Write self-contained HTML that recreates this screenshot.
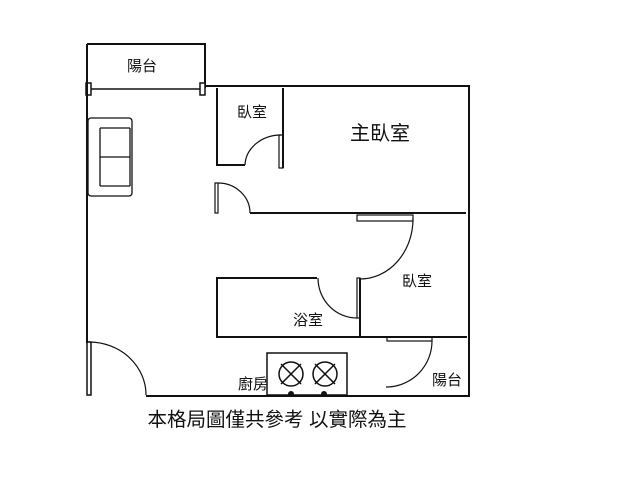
<!DOCTYPE html>
<html><head><meta charset="utf-8"><style>
html,body{margin:0;padding:0;background:#fff;}
svg{display:block;}
text{font-family:"Liberation Sans","Noto Sans CJK TC",sans-serif;fill:#111;}
</style></head><body>
<svg width="640" height="480" viewBox="0 0 640 480" xmlns="http://www.w3.org/2000/svg">
<g fill="none" stroke="#111" stroke-width="2">
<path d="M87 44 H205 V88"/>
<line x1="89" y1="89" x2="203" y2="89" stroke-width="1.5"/>
<rect x="86" y="83" width="5" height="12" fill="#fff" stroke-width="1.5"/>
<rect x="200" y="83" width="5" height="12" fill="#fff" stroke-width="1.5"/>
<line x1="87" y1="44" x2="87" y2="343"/>
<path d="M205 86 H469 V396 H146"/>
<rect x="87" y="342" width="4" height="53" stroke-width="1.5"/>
<path d="M89 342 A57 53 0 0 1 146 395" stroke-width="1.2"/>
<path d="M217 88 V165 H245"/>
<line x1="283" y1="88" x2="283" y2="168"/>
<rect x="279" y="135" width="4" height="33" stroke-width="1.2"/>
<path d="M245 165 A36 31 0 0 1 281 135" stroke-width="1.2"/>
<rect x="215" y="183" width="3" height="30" stroke-width="1.2"/>
<path d="M218 183 A32 30 0 0 1 250 213" stroke-width="1.2"/>
<line x1="250" y1="213" x2="466" y2="213"/>
<rect x="357" y="215" width="56" height="6" stroke-width="1.2"/>
<path d="M413 219 A53 60 0 0 1 360 279" stroke-width="1.2"/>
<path d="M317 278 H217 V337 H467"/>
<line x1="360" y1="278" x2="360" y2="337"/>
<rect x="357" y="278" width="3" height="40" stroke-width="1.2"/>
<path d="M318 278 A39 40 0 0 0 357 318" stroke-width="1.2"/>
<rect x="387" y="337" width="45" height="4" stroke-width="1.2"/>
<path d="M432 341 A46 46 0 0 1 386 387" stroke-width="1.2"/>
<rect x="267" y="353" width="80" height="42" stroke-width="1.5"/>
<g stroke-width="1.5">
<circle cx="291" cy="374" r="12"/><line x1="281" y1="364" x2="301" y2="384"/><line x1="301" y1="364" x2="281" y2="384"/>
<circle cx="325" cy="374" r="12"/><line x1="315" y1="364" x2="335" y2="384"/><line x1="335" y1="364" x2="315" y2="384"/>
</g>
<g stroke-width="1.3">
<rect x="88" y="118" width="44" height="78" rx="3"/>
<line x1="100" y1="128" x2="100" y2="186"/>
<line x1="100" y1="128" x2="130" y2="128"/>
<line x1="100" y1="186" x2="130" y2="186"/>
<line x1="100" y1="157" x2="130" y2="157"/>
<line x1="130" y1="128" x2="130" y2="186"/>
</g>
</g>
<circle cx="291" cy="394" r="3" fill="#111"/>
<circle cx="324" cy="394" r="3" fill="#111"/>
<g font-size="15">
<text x="142" y="71" text-anchor="middle">陽台</text>
<text x="252" y="117" text-anchor="middle">臥室</text>
<text x="417" y="286" text-anchor="middle">臥室</text>
<text x="308" y="325" text-anchor="middle">浴室</text>
<text x="253" y="389" text-anchor="middle">廚房</text>
<text x="447" y="385" text-anchor="middle">陽台</text>
</g>
<text x="380" y="140" text-anchor="middle" font-size="20">主臥室</text>
<text x="277" y="426" text-anchor="middle" font-size="19.5">本格局圖僅共參考 以實際為主</text>
</svg>
</body></html>
